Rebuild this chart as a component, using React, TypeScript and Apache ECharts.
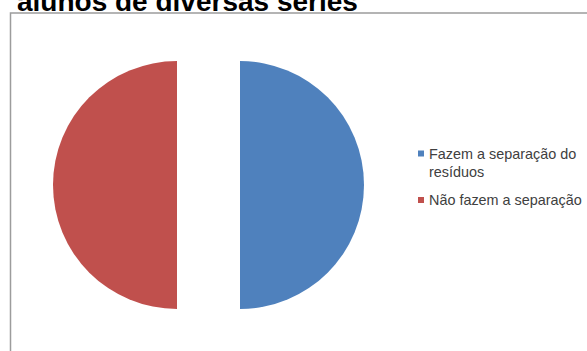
import React, { useEffect, useRef } from "react";
import * as echarts from "echarts";

const titleText = "alunos de diversas séries";
const categories = ["Fazem a separação do resíduos", "Não fazem a separação"];
const values = [50, 50];
const colors = ["#4F81BD", "#C0504D"];

export default function App() {
  const ref = useRef<HTMLDivElement>(null);
  useEffect(() => {
    if (!ref.current) return;
    const chart = echarts.init(ref.current, undefined, { renderer: "svg" });
    const font = "'Liberation Sans', Arial, sans-serif";
    chart.setOption({
      animation: false,
      backgroundColor: "#ffffff",
      title: {
        text: titleText,
        left: 17,
        top: -13,
        padding: 0,
        textStyle: {
          fontFamily: font,
          fontWeight: "bold",
          fontSize: 28,
          lineHeight: 28,
          color: "#000000",
        },
      },
      graphic: [
        {
          type: "rect",
          shape: { x: 10.5, y: 13, width: 620, height: 400 },
          style: { fill: "none", stroke: "#9c9c9c", lineWidth: 1.5 },
          z: -1,
        },
      ],
      legend: {
        orient: "vertical",
        left: 418,
        top: 126.5,
        padding: 0,
        itemGap: 10.5,
        itemWidth: 6,
        itemHeight: 6,
        icon: "rect",
        selectedMode: false,
        data: [categories[0], categories[1]],
        formatter: (name: string) =>
          name === categories[0] ? " \nFazem a separação do\nresíduos" : name,
        textStyle: {
          fontFamily: font,
          fontSize: 14.4,
          lineHeight: 18,
          color: "#404040",
        },
      },
      series: [
        {
          type: "pie",
          center: [208.5, 185],
          radius: 124,
          startAngle: 90,
          clockwise: true,
          selectedMode: "multiple",
          selectedOffset: 31.5,
          label: { show: false },
          labelLine: { show: false },
          emphasis: { disabled: true },
          data: categories.map((name, i) => ({
            name,
            value: values[i],
            selected: true,
            itemStyle: { color: colors[i] },
          })),
        },
      ],
    });
    return () => chart.dispose();
  }, []);
  return (
    <div
      ref={ref}
      style={{ position: "fixed", left: 0, top: 0, width: 587, height: 351 }}
    />
  );
}
